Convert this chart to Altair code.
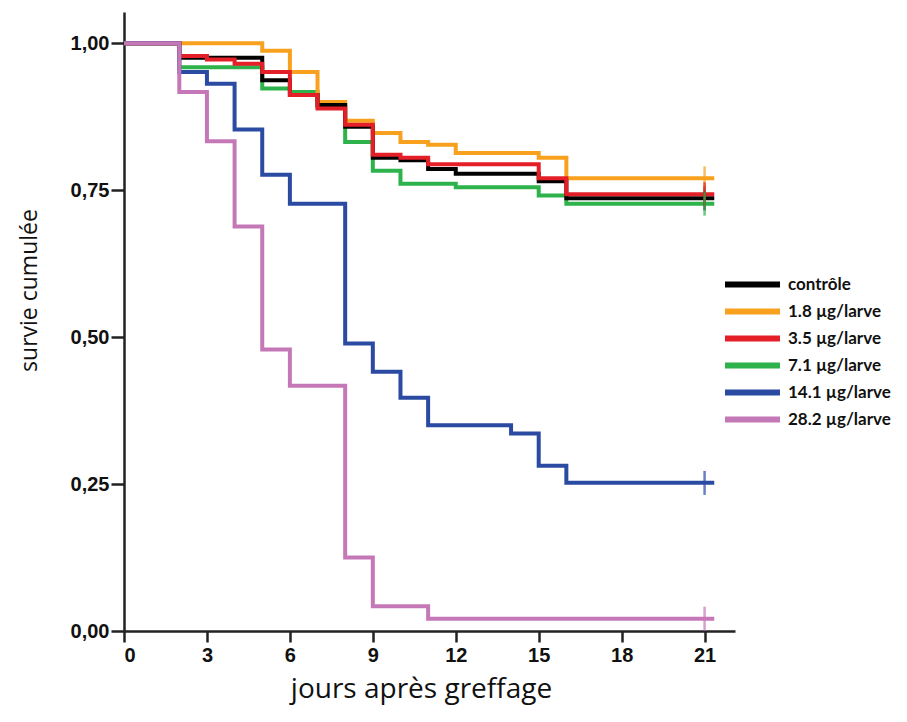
import altair as alt
import pandas as pd

# ---- data (Kaplan-Meier step curves) ----
SERIES = ["contrôle", "1.8 µg/larve", "3.5 µg/larve", "7.1 µg/larve",
          "14.1 µg/larve", "28.2 µg/larve"]
COLORS = ["#000000", "#F7A11E", "#E41F28", "#2EB24B", "#2B4AA2", "#C578B8"]

days_ctrl = [0, 2, 5, 6, 7, 8, 9, 10, 11, 12, 15, 16]
surv_ctrl = [1.0, 0.975, 0.937, 0.912, 0.895, 0.858, 0.805, 0.801, 0.786, 0.778, 0.765, 0.736]

days_18 = [0, 5, 6, 7, 8, 9, 10, 11, 12, 15, 16]
surv_18 = [1.0, 0.987, 0.951, 0.900, 0.868, 0.847, 0.832, 0.827, 0.813, 0.805, 0.770]

days_35 = [0, 2, 3, 4, 5, 6, 7, 8, 9, 10, 11, 15, 16]
surv_35 = [1.0, 0.978, 0.972, 0.965, 0.951, 0.912, 0.889, 0.861, 0.810, 0.805, 0.794, 0.770, 0.743]

days_71 = [0, 2, 5, 6, 7, 8, 9, 10, 12, 15, 16]
surv_71 = [1.0, 0.959, 0.923, 0.917, 0.892, 0.832, 0.783, 0.761, 0.755, 0.741, 0.727]

days_141 = [0, 2, 3, 4, 5, 6, 8, 9, 10, 11, 14, 15, 16]
surv_141 = [1.0, 0.951, 0.931, 0.853, 0.776, 0.727, 0.489, 0.441, 0.397, 0.350, 0.336, 0.281, 0.252]

days_282 = [0, 2, 3, 4, 5, 6, 8, 9, 11]
surv_282 = [1.0, 0.917, 0.833, 0.688, 0.479, 0.417, 0.125, 0.042, 0.021]

CENSOR_DAY = 21       # last follow-up (censoring mark)
LINE_END = 21.35      # end of the drawn tail
X_TICKS = [0, 3, 6, 9, 12, 15, 18, 21]
Y_TICKS = [0, 0.25, 0.5, 0.75, 1.0]

all_days = [days_ctrl, days_18, days_35, days_71, days_141, days_282]
all_surv = [surv_ctrl, surv_18, surv_35, surv_71, surv_141, surv_282]

rows, cens = [], []
for name, d, s in zip(SERIES, all_days, all_surv):
    for di, si in zip(d, s):
        rows.append({"serie": name, "jour": di, "survie": si})
    rows.append({"serie": name, "jour": LINE_END, "survie": s[-1]})
    cens.append({"serie": name, "jour": CENSOR_DAY, "survie": s[-1]})
df = pd.DataFrame(rows)
dc = pd.DataFrame(cens)

color = alt.Color("serie:N",
                  scale=alt.Scale(domain=SERIES, range=COLORS),
                  legend=alt.Legend(
                      title=None, orient="none", legendX=616, legendY=260,
                      symbolType="M-3,0H3", symbolSize=336, symbolStrokeWidth=6,
                      labelFont="Lato", labelFontSize=17, labelFontWeight="bold",
                      labelColor="#111", labelOffset=23, rowPadding=2,
                      padding=0))

x = alt.X("jour:Q", scale=alt.Scale(domain=[0, 22.1], nice=False, zero=False),
          axis=alt.Axis(values=X_TICKS, title="jours après greffage",
                        grid=False, format="d",
                        labelFont="Liberation Sans", labelFontSize=20,
                        labelFontWeight="bold", labelColor="#111", labelPadding=3,
                        tickSize=11, tickWidth=2.5, tickColor="#222",
                        domainColor="#222", domainWidth=2.5,
                        titleFont="Open Sans", titleFontSize=28,
                        titleFontWeight="normal", titleColor="#111",
                        titleX=297, titleY=66, titleBaseline="alphabetic",
                        titleAlign="center"))
y = alt.Y("survie:Q", scale=alt.Scale(domain=[0, 1.053], nice=False),
          axis=alt.Axis(values=Y_TICKS, title="survie cumulée", grid=False,
                        labelExpr="replace(format(datum.value, '.2f'), '.', ',')",
                        labelFont="Liberation Sans", labelFontSize=20,
                        labelFontWeight="bold", labelColor="#111", labelPadding=2,
                        tickSize=13, tickWidth=2.5, tickColor="#222",
                        domainColor="#222", domainWidth=2.5,
                        titleFont="Open Sans", titleFontSize=23,
                        titleFontWeight="normal", titleColor="#111",
                        titleX=-88, titleY=278, titleBaseline="alphabetic",
                        titleAlign="center", titleAngle=270))

draw_order = ["7.1 µg/larve", "1.8 µg/larve", "contrôle", "3.5 µg/larve",
              "14.1 µg/larve", "28.2 µg/larve"]
layers = []
for name in draw_order:
    sub = df[df.serie == name]
    layers.append(
        alt.Chart(sub).mark_line(interpolate="step-after", strokeWidth=4)
        .encode(x=x, y=y, color=color)
    )
layers.append(
    alt.Chart(dc).mark_tick(orient="vertical", size=24, thickness=2.5)
    .encode(x=x, y=y, color=alt.Color("serie:N", scale=alt.Scale(domain=SERIES, range=COLORS), legend=None))
)

chart = alt.layer(*layers).properties(
    width=611, height=619,
    background="white",
    autosize=alt.AutoSizeParams(type="none"),
    padding={"left": 116, "top": 4, "right": 160, "bottom": 74},
).configure_view(strokeWidth=0)

chart.save("out.html", embed_options={"renderer": "svg", "actions": False})
